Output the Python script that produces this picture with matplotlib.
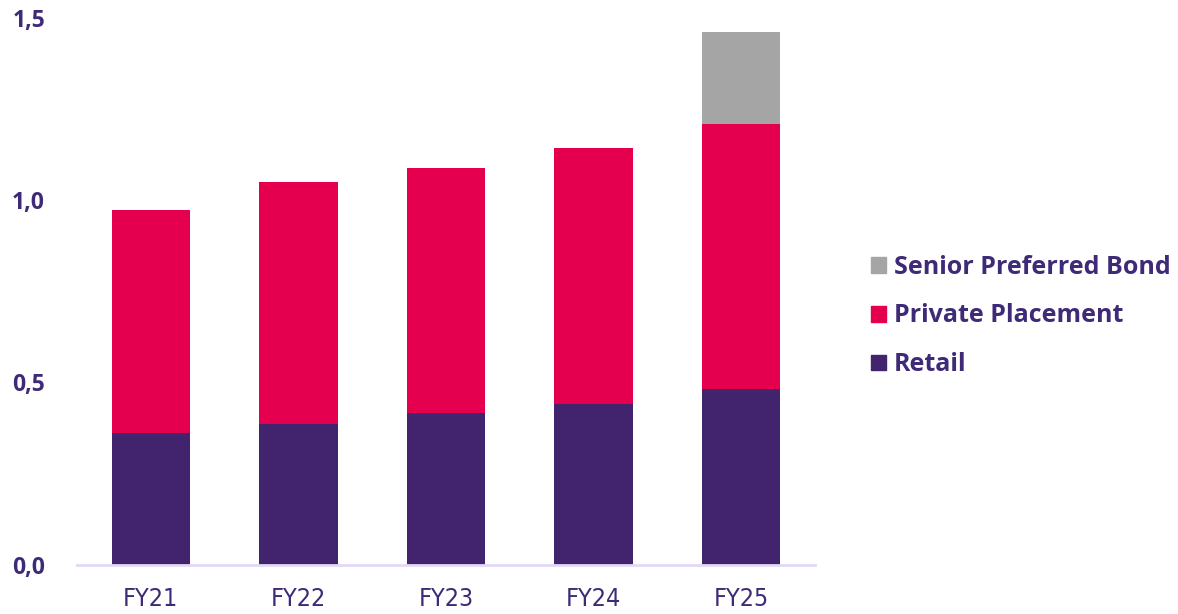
import numpy as np
import matplotlib.pyplot as plt
from matplotlib.patches import Patch

years = ["FY21", "FY22", "FY23", "FY24", "FY25"]
retail = [0.362, 0.386, 0.416, 0.441, 0.482]
private_placement = [0.611, 0.663, 0.672, 0.701, 0.726]
senior_preferred = [0.0, 0.0, 0.0, 0.0, 0.252]
yticks = [0.0, 0.5, 1.0, 1.5]

c_retail = "#42246e"
c_pp = "#e4004f"
c_spb = "#a5a5a5"
c_text = "#3f2a78"

fig = plt.figure(figsize=(11.78, 6.14), dpi=100)
ax = fig.add_axes([77 / 1178, 49 / 614, 738 / 1178, 547.5 / 614])

x = np.arange(len(years))
w = 0.53
ax.bar(x, retail, w, color=c_retail)
ax.bar(x, private_placement, w, bottom=retail, color=c_pp)
bottom2 = np.array(retail) + np.array(private_placement)
ax.bar(x, senior_preferred, w, bottom=bottom2, color=c_spb)

ax.set_xlim(-0.5, 4.5)
ax.set_ylim(0, 1.5)
for s in ["top", "right", "left"]:
    ax.spines[s].set_visible(False)
ax.spines["bottom"].set_color("#e2d9f2")
ax.spines["bottom"].set_linewidth(2)

ax.set_yticks(yticks)
ax.set_yticklabels([f"{v:.1f}".replace(".", ",") for v in yticks],
                   fontsize=16.5, fontweight="bold", color=c_text,
                   family=["Open Sans", "DejaVu Sans"])
ax.tick_params(axis="y", length=0, pad=23)
ax.set_xticks(x)
ax.set_xticklabels(years, fontsize=18, color=c_text, fontstretch="condensed",
                   family=["Liberation Sans Narrow", "DejaVu Sans"])
ax.tick_params(axis="x", length=0, pad=16)

handles = [Patch(color=c_spb, label="Senior Preferred Bond"),
           Patch(color=c_pp, label="Private Placement"),
           Patch(color=c_retail, label="Retail")]
leg = fig.legend(handles=handles, loc="center left",
                 bbox_to_anchor=(858 / 1178, 1 - 316 / 614), frameon=False,
                 prop={"family": ["Open Sans", "DejaVu Sans"], "weight": "bold", "size": 18},
                 handlelength=0.6, handleheight=0.6, handletextpad=0.35,
                 labelspacing=0.95, borderpad=0)
for t in leg.get_texts():
    t.set_color(c_text)

fig.savefig("out.png", dpi=100)
